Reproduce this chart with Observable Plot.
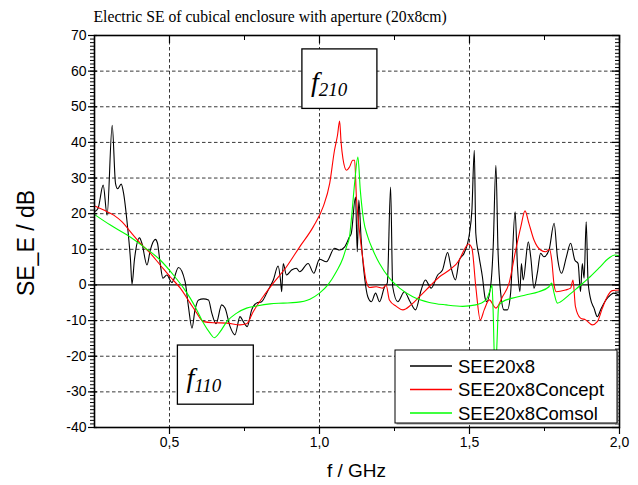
<!DOCTYPE html>
<html><head><meta charset="utf-8">
<script src="https://cdn.jsdelivr.net/npm/d3@7"></script>
<script src="https://cdn.jsdelivr.net/npm/@observablehq/plot@0.6"></script>
<style>body{margin:0;background:#fff} #chart{width:638px;height:485px}</style>
</head><body><div id="chart"></div>
<script>
const title = "Electric SE of cubical enclosure with aperture (20x8cm)";
const xLabel = "f / GHz";
const yLabel = "SE_E / dB";
const seriesNames = ["SEE20x8", "SEE20x8Concept", "SEE20x8Comsol"];
const seriesColors = ["#000000", "#ff0000", "#00ff00"];

const fBlack = [0.253,0.262,0.279,0.292,0.309,0.320,0.327,0.339,0.347,0.359,0.370,0.375,0.383,0.400,0.408,0.425,0.436,0.453,0.460,0.469,0.478,0.491,0.508,0.530,0.552,0.563,0.575,0.585,0.597,0.613,0.630,0.641,0.655,0.674,0.685,0.702,0.718,0.735,0.746,0.759,0.774,0.790,0.807,0.829,0.846,0.862,0.870,0.874,0.879,0.890,0.907,0.923,0.934,0.962,0.981,1.000,1.023,1.050,1.067,1.084,1.100,1.106,1.120,1.126,1.131,1.139,1.150,1.161,1.173,1.187,1.200,1.217,1.226,1.237,1.244,1.261,1.283,1.302,1.320,1.339,1.353,1.372,1.394,1.410,1.427,1.438,1.453,1.466,1.482,1.500,1.508,1.516,1.521,1.532,1.543,1.552,1.557,1.571,1.579,1.588,1.595,1.604,1.615,1.626,1.637,1.652,1.660,1.668,1.673,1.679,1.696,1.704,1.715,1.726,1.737,1.748,1.765,1.782,1.793,1.807,1.823,1.837,1.851,1.862,1.870,1.876,1.882,1.889,1.895,1.903,1.915,1.926,1.937,1.951,1.964,1.981,1.998];
const seBlack = [20.7,21.5,28,19.6,44.8,28.5,27,28.3,25.7,17.3,7,0.2,7,13.2,11.7,5.6,9.8,12.8,11.7,6,1.9,2.8,0.7,4.9,0.9,-6,-12.1,-7,-4.2,-3.9,-4.2,-7.9,-10.9,-5.6,-6.5,-11.7,-14,-8.9,-10.3,-11.7,-7,-5.1,-4.7,-1.4,1.4,5.3,1.4,-1.9,6,2.8,4.2,4.7,3.7,6,3.3,7.2,6.5,10.3,9.8,10.7,13.5,14.5,24.7,9.3,23.8,12.6,2.3,-3.3,-4.7,-2.3,-4.7,-0.5,0.5,27.5,-0.5,-4.7,-1.9,-4.7,-7,-1.4,1.4,-0.9,2.8,4.2,9.1,5.1,1.4,7,8.9,14.5,21,37.8,14.5,7.9,2.3,-3.7,-4.7,0,10.7,33.6,9.8,-2.3,-7,-7,-2.3,20.5,5.1,-1.9,6,1.4,12.1,7.9,-0.9,3.3,8.9,7.9,9.8,17.3,7.9,3.3,7.9,11.7,7,6,-1.9,6,1.9,17.7,1.4,-3.7,-6.5,-8.9,-7,-4.7,-3.3,-2.3,-2.8];

const fRed = [0.253,0.281,0.314,0.342,0.370,0.403,0.436,0.469,0.502,0.536,0.569,0.591,0.613,0.646,0.691,0.735,0.757,0.779,0.812,0.846,0.890,0.934,0.979,1.012,1.034,1.050,1.060,1.067,1.072,1.078,1.090,1.100,1.111,1.117,1.123,1.134,1.145,1.156,1.167,1.189,1.211,1.222,1.233,1.256,1.278,1.305,1.333,1.366,1.400,1.433,1.466,1.482,1.497,1.508,1.521,1.536,1.549,1.566,1.588,1.610,1.632,1.654,1.671,1.685,1.698,1.715,1.737,1.754,1.767,1.774,1.782,1.789,1.820,1.837,1.845,1.853,1.870,1.887,1.909,1.926,1.943,1.959,1.976,2.000];
const seRed = [22.1,21,19.6,17.7,14.9,11.7,8.9,5.6,2.3,-0.9,-5.1,-7.9,-10.3,-10.6,-10.7,-11.2,-10.9,-7.5,-3.3,0.5,5.1,10.7,16.3,21.9,28.5,37.8,42,46,40,35.5,32.2,33.1,35,35,24.7,14.5,7,0.9,-0.7,-0.5,-0.9,0,-4.2,-6,-7,-5.6,-3.3,-0.5,2.3,4.2,7,9.8,11.5,10.3,-0.5,-9.8,-7,-4.2,-6.5,-3.3,0.5,9.8,16.3,20.8,17.3,12.6,9.8,9.3,10,7,0,-1.9,-1.4,-0.9,1.4,-6,-9.3,-9.8,-11.2,-10.3,-6.5,-3.3,-1.6,-1.4];

const fGreen = [0.253,0.303,0.359,0.414,0.469,0.513,0.547,0.569,0.591,0.613,0.635,0.649,0.669,0.691,0.724,0.757,0.790,0.835,0.879,0.923,0.968,1.000,1.028,1.056,1.078,1.090,1.100,1.106,1.117,1.128,1.136,1.147,1.161,1.178,1.200,1.233,1.267,1.311,1.366,1.422,1.477,1.521,1.555,1.571,1.575,1.579,1.583,1.588,1.592,1.596,1.599,1.610,1.643,1.687,1.731,1.765,1.774,1.782,1.793,1.804,1.832,1.864,1.897,1.931,1.964,1.984,2.000];
const seGreen = [19.6,16.8,14,10.7,7,2.8,-0.9,-3.7,-7,-10.7,-13.5,-14.8,-13.1,-10.3,-7.9,-6.5,-5.9,-5.3,-5.1,-4.9,-4,-2.3,0,3.7,7.5,10.7,13.5,18.2,28.5,35.9,26.6,18.2,13.5,9.8,6,1.9,-0.9,-3.3,-4.9,-5.6,-6,-5.6,-4.2,-0.9,0,-7.9,-20,-22,-15.4,-7,-5.6,-4.7,-3.7,-2.8,-1.9,-0.5,0.5,-2.3,-5.1,-4.7,-2.8,-0.5,1.9,4.7,7.5,8.4,8.1];

const xMajorTicks = [0.5, 1.0, 1.5, 2.0];
const xMinorTicks = [0.75, 1.25, 1.75];
const xGridTicks = [0.5, 1.0, 1.5];
const yMajorTicks = [-40, -30, -20, -10, 0, 10, 20, 30, 40, 50, 60, 70];
const yGridTicks = [-30, -20, -10, 10, 20, 30, 40, 50, 60];
const yMinorTicks = d3.range(-40, 71, 1);

const annotations = [
  {sub: "210", x1: 0.943, x2: 1.193, y1: 49.4, y2: 66.1},
  {sub: "110", x1: 0.528, x2: 0.781, y1: -33.6, y2: -17.0}
];

const W = 638, H = 485, mL = 94, mR = 19, mT = 35, mB = 58;
const FW = W - mL - mR, FH = H - mT - mB;

const toRows = (fs, vs, name) => fs.map((f, i) => ({f, v: vs[i], name}));
const black = toRows(fBlack, seBlack, seriesNames[0]);
const red = toRows(fRed, seRed, seriesNames[1]);
const green = toRows(fGreen, seGreen, seriesNames[2]);

const commaFmt = d => d.toFixed(1).replace(".", ",");
const gridStyle = {stroke: "#222", strokeOpacity: 1, strokeWidth: 0.9, strokeDasharray: "3.5,2.5"};

const plot = Plot.plot({
  width: W, height: H,
  marginLeft: mL, marginRight: mR, marginTop: mT, marginBottom: mB,
  x: {domain: [0.25, 2.0], axis: null},
  y: {domain: [-40, 70], axis: null},
  style: {fontFamily: "'Liberation Sans', Arial, sans-serif", background: "white", color: "black", overflow: "visible"},
  marks: [
    Plot.gridX(xGridTicks, gridStyle),
    Plot.gridY(yGridTicks, gridStyle),
    Plot.ruleY([0], {stroke: "black", strokeWidth: 1.2}),
    Plot.line(black, {x: "f", y: "v", stroke: seriesColors[0], strokeWidth: 1.1, curve: "monotone-x"}),
    Plot.line(red, {x: "f", y: "v", stroke: seriesColors[1], strokeWidth: 1.1, curve: "monotone-x"}),
    Plot.line(green, {x: "f", y: "v", stroke: seriesColors[2], strokeWidth: 1.1, curve: "monotone-x"}),
    Plot.rect(annotations, {x1: "x1", x2: "x2", y1: "y1", y2: "y2", fill: "white", stroke: "black", strokeWidth: 1.3}),
    Plot.tickY(yMinorTicks, {y: d => d, stroke: "black", insetLeft: -4, insetRight: FW}),
    Plot.tickY(yMajorTicks, {y: d => d, stroke: "black", strokeWidth: 1.2, insetLeft: -6, insetRight: FW - 3}),
    Plot.tickY(yMinorTicks, {y: d => d, stroke: "black", insetLeft: FW - 4}),
    Plot.tickY(yMajorTicks, {y: d => d, stroke: "black", strokeWidth: 1.2, insetLeft: FW - 7}),
    Plot.tickX(xMinorTicks, {x: d => d, stroke: "black", insetBottom: FH - 5}),
    Plot.tickX(xMajorTicks, {x: d => d, stroke: "black", strokeWidth: 1.2, insetBottom: FH - 8}),
    Plot.tickX(xMinorTicks, {x: d => d, stroke: "black", insetTop: FH, insetBottom: -4}),
    Plot.tickX(xMajorTicks, {x: d => d, stroke: "black", strokeWidth: 1.2, insetTop: FH, insetBottom: -7}),
    Plot.frame({stroke: "black", strokeWidth: 1.6}),
    Plot.axisY(yMajorTicks, {anchor: "left", tickSize: 0, tickPadding: 8, tickFormat: d => String(d), fontSize: 14, label: null}),
    Plot.axisX(xMajorTicks, {anchor: "bottom", tickSize: 0, tickPadding: 10, tickFormat: commaFmt, fontSize: 14, label: null}),
    Plot.text([title], {text: d => d, frameAnchor: "top-left", textAnchor: "start", lineAnchor: "bottom", dy: -14, dx: -1, fontFamily: "'Liberation Serif', 'Times New Roman', serif", fontSize: 15.7})
  ]
});

document.getElementById("chart").appendChild(plot);

const sx = plot.scale("x"), sy = plot.scale("y");
const svg = d3.select(plot);
const sans = "'Liberation Sans', Arial, sans-serif";

// axis titles
svg.append("text").attr("x", mL + FW / 2).attr("y", H - mB + 43).attr("dy", "0.35em")
  .attr("text-anchor", "middle").attr("font-family", sans).attr("font-size", 19).attr("fill", "black").text(xLabel);
svg.append("text").attr("transform", `translate(26,${mT + FH / 2 + 12}) rotate(-90)`).attr("dy", "0.35em")
  .attr("text-anchor", "middle").attr("font-family", sans).attr("font-size", 23).attr("fill", "black").text(yLabel);

for (const a of annotations) {
  const left = sx.apply(a.x1), top = sy.apply(a.y2);
  const t = svg.append("text")
    .attr("x", left + 9).attr("y", top + 42)
    .attr("text-anchor", "start")
    .attr("font-family", "'Liberation Serif', 'Times New Roman', serif")
    .attr("font-style", "italic").attr("fill", "black");
  t.append("tspan").attr("font-size", 28).text("f");
  t.append("tspan").attr("font-size", 19).attr("dy", 5).text(a.sub);
}

const lgW = 222, lgH = 73;
const lgRight = W - mR - 2, lgBottom = H - mB - 4;
const lgLeft = lgRight - lgW, lgTop = lgBottom - lgH;
const lg = svg.append("g");
lg.append("rect").attr("x", lgLeft + 1.5).attr("y", lgTop + 1.5).attr("width", lgW).attr("height", lgH).attr("fill", "#9a9a9a");
lg.append("rect").attr("x", lgLeft).attr("y", lgTop).attr("width", lgW).attr("height", lgH).attr("fill", "white").attr("stroke", "black").attr("stroke-width", 1);
seriesNames.forEach((name, i) => {
  const yy = lgTop + 16 + i * 23.5;
  lg.append("line").attr("x1", lgLeft + 15).attr("x2", lgLeft + 57).attr("y1", yy).attr("y2", yy)
    .attr("stroke", seriesColors[i]).attr("stroke-width", 1.4);
  lg.append("text").attr("x", lgLeft + 63).attr("y", yy).attr("dy", "0.36em")
    .attr("text-anchor", "start")
    .attr("font-family", sans).attr("font-size", 18.5).attr("fill", "black").text(name);
});
</script>
</body></html>
